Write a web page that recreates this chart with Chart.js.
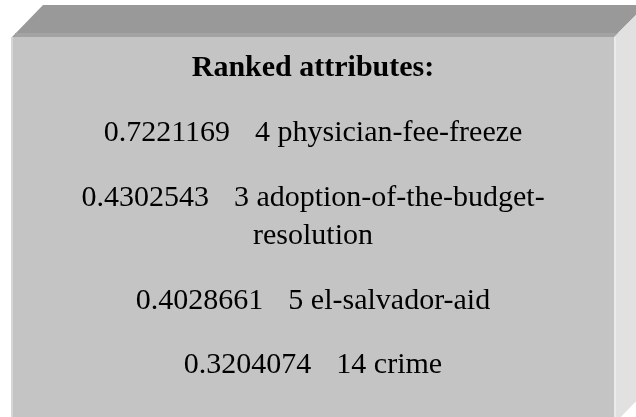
<!DOCTYPE html>
<html>
<head>
<meta charset="utf-8">
<style>
  html, body { margin: 0; padding: 0; background: #ffffff; }
  #panel { display: block; }
</style>
<script src="https://cdn.jsdelivr.net/npm/chart.js@4.4.1/dist/chart.umd.min.js"></script>
</head>
<body>
<canvas id="panel" width="636" height="417"></canvas>
<script>
const title = "Ranked attributes:";
const merits = [0.7221169, 0.4302543, 0.4028661, 0.3204074];
const ranks = [4, 3, 5, 14];
const attributes = ["physician-fee-freeze", "adoption-of-the-budget-resolution", "el-salvador-aid", "crime"];

const centerX = 313;
const maxLineWidth = 480;
const gap = 25;

// break a label after hyphens so it fits the box
const wrapLabel = (ctx, head, label) => {
  const parts = label.match(/[^-]+-?/g);
  const lines = [];
  let cur = "";
  let room = maxLineWidth - head;
  parts.forEach((p) => {
    if (cur && ctx.measureText(cur + p).width > room) {
      lines.push(cur);
      cur = p;
      room = maxLineWidth;
    } else {
      cur += p;
    }
  });
  lines.push(cur);
  return lines;
};

const boxPlugin = {
  id: "box",
  beforeDraw(chart) {
    const ctx = chart.ctx;
    ctx.save();
    // top face
    ctx.fillStyle = "#999999";
    ctx.beginPath();
    ctx.moveTo(12, 37); ctx.lineTo(43, 5); ctx.lineTo(646, 5); ctx.lineTo(614, 37);
    ctx.closePath(); ctx.fill();
    ctx.fillStyle = "#a3a3a3";
    ctx.fillRect(15, 33, 603, 4);
    // right face
    ctx.fillStyle = "#e1e1e1";
    ctx.beginPath();
    ctx.moveTo(614, 37); ctx.lineTo(646, 5); ctx.lineTo(646, 391); ctx.lineTo(614, 424);
    ctx.closePath(); ctx.fill();
    ctx.fillStyle = "#ebebeb";
    ctx.fillRect(614, 37, 2, 390);
    // front face
    ctx.fillStyle = "#c4c4c4";
    ctx.fillRect(12, 37, 602, 390);
    ctx.fillStyle = "#d6d6d6";
    ctx.fillRect(11, 37, 2, 390);
    ctx.restore();
  },
  afterDraw(chart) {
    const ctx = chart.ctx;
    ctx.save();
    ctx.fillStyle = "#000000";
    ctx.textBaseline = "alphabetic";
    ctx.textAlign = "center";
    ctx.font = "bold 30px 'Liberation Serif'";
    ctx.fillText(title, centerX, 76);

    ctx.font = "30px 'Liberation Serif'";
    let y = 141;
    chart.data.datasets[0].data.forEach((m, i) => {
      const num = m.toFixed(7);
      const numW = ctx.measureText(num).width;
      const lines = wrapLabel(ctx, numW + gap, ranks[i] + " " + attributes[i]);
      const firstW = numW + gap + ctx.measureText(lines[0]).width;
      const x0 = centerX - firstW / 2;
      ctx.textAlign = "left";
      ctx.fillText(num, x0, y);
      ctx.fillText(lines[0], x0 + numW + gap, y);
      ctx.textAlign = "center";
      for (let k = 1; k < lines.length; k++) {
        y += 38.5;
        ctx.fillText(lines[k], centerX, y);
      }
      y += 64.5;
    });
    ctx.restore();
  },
};

new Chart(document.getElementById("panel"), {
  type: "bar",
  plugins: [boxPlugin],
  data: {
    labels: attributes,
    datasets: [{
      data: merits,
      backgroundColor: "rgba(0,0,0,0)",
      borderWidth: 0,
    }],
  },
  options: {
    responsive: false,
    animation: false,
    events: [],
    layout: { padding: 0 },
    plugins: {
      legend: { display: false },
      tooltip: { enabled: false },
    },
    scales: {
      x: { display: false },
      y: { display: false },
    },
  },
});
</script>
</body>
</html>
